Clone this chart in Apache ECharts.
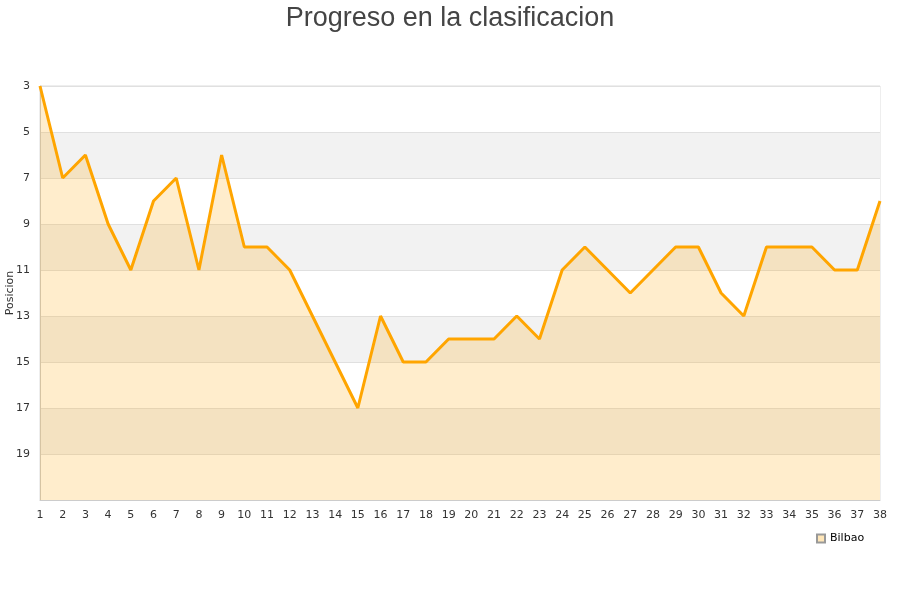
<!DOCTYPE html>
<html>
<head>
<meta charset="utf-8">
<script src="https://cdn.jsdelivr.net/npm/echarts@6/dist/echarts.min.js"></script>
<style>html,body{margin:0;padding:0;background:#fff}#chartmain{width:900px;height:600px}</style>
</head>
<body>
<div id="chartmain"></div>
<script>
var jornadas = [1,2,3,4,5,6,7,8,9,10,11,12,13,14,15,16,17,18,19,20,21,22,23,24,25,26,27,28,29,30,31,32,33,34,35,36,37,38];
var posicion_bilbao = [3,7,6,9,11,8,7,11,6,10,10,11,13,15,17,13,15,15,14,14,14,13,14,11,10,11,12,11,10,10,12,13,10,10,10,11,11,8];

var option = {
    animation: false,
    title: {
        text: 'Progreso en la clasificacion',
        left: 'center',
        top: 0,
        textStyle: {
            fontFamily: 'Liberation Sans',
            fontSize: 27,
            fontWeight: 'normal',
            color: '#444'
        }
    },
    legend: {
        data: ['Bilbao'],
        left: 811,
        top: 528,
        itemWidth: 8,
        itemHeight: 8,
        itemGap: 5,
        icon: 'rect',
        textStyle: {
            fontFamily: 'DejaVu Sans',
            fontSize: 11,
            color: '#000'
        }
    },
    grid: {
        left: 40,
        right: 20,
        top: 86,
        bottom: 100,
        outerBoundsMode: 'none',
        containLabel: false,
        show: true,
        borderColor: '#ddd',
        borderWidth: 1
    },
    xAxis: {
        type: 'category',
        data: jornadas,
        boundaryGap: false,
        axisTick: { show: false },
        axisLine: { lineStyle: { color: '#ccc' } },
        axisLabel: {
            interval: 0,
            fontFamily: 'DejaVu Sans',
            fontSize: 11,
            color: '#333',
            margin: 10
        },
        splitLine: { show: false }
    },
    yAxis: {
        type: 'value',
        inverse: true,
        min: 3,
        max: 21,
        interval: 2,
        name: 'Posicion',
        nameLocation: 'middle',
        nameGap: 24,
        nameMoveOverlap: false,
        nameTextStyle: {
            fontFamily: 'DejaVu Sans',
            fontSize: 11,
            color: '#333'
        },
        axisLine: { show: true, lineStyle: { color: '#ccc' } },
        axisTick: { show: false },
        axisLabel: {
            fontFamily: 'DejaVu Sans',
            fontSize: 11,
            color: '#333',
            margin: 10,
            formatter: function (v) { return v >= 21 ? '' : v; }
        },
        splitLine: { show: true, lineStyle: { color: '#e0e0e0' } },
        splitArea: { show: true, areaStyle: { color: ['#ffffff', '#f2f2f2'] } }
    },
    series: [{
        name: 'Bilbao',
        type: 'line',
        data: posicion_bilbao,
        symbol: 'none',
        lineStyle: { color: '#ffa500', width: 3 },
        itemStyle: { color: '#ffe6b8', borderColor: '#999', borderWidth: 1 },
        areaStyle: { color: '#ffa500', opacity: 0.2, origin: 'end' }
    }]
};

var myChart = echarts.init(document.getElementById('chartmain'));
myChart.setOption(option);
</script>
</body>
</html>
